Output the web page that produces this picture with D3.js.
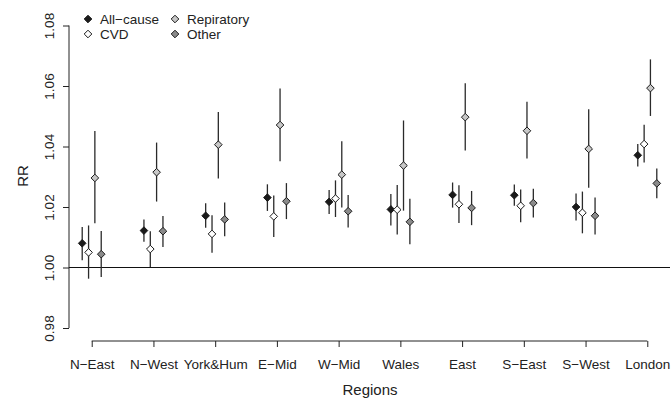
<!DOCTYPE html>
<html>
<head>
<meta charset="utf-8">
<script src="https://cdn.jsdelivr.net/npm/d3@7"></script>
<style>
  body { margin: 0; background: #fff; }
  text { font-family: "Liberation Sans", Arial, sans-serif; fill: #222; }
</style>
</head>
<body>
<script>
// regions on the x axis
var regions = ["N\u2212East", "N\u2212West", "York&Hum", "E\u2212Mid", "W\u2212Mid", "Wales", "East", "S\u2212East", "S\u2212West", "London"];

// relative risk estimates and 95% limits, one array per cause
var allCause    = [1.0080, 1.0122, 1.0171, 1.0231, 1.0217, 1.0192, 1.0240, 1.0239, 1.0200, 1.0371];
var allCauseLo  = [1.0024, 1.0085, 1.0131, 1.0187, 1.0177, 1.0139, 1.0198, 1.0204, 1.0155, 1.0334];
var allCauseHi  = [1.0134, 1.0159, 1.0212, 1.0275, 1.0256, 1.0243, 1.0281, 1.0274, 1.0245, 1.0408];

var cvd    = [1.0050, 1.0061, 1.0111, 1.0169, 1.0228, 1.0191, 1.0209, 1.0204, 1.0181, 1.0408];
var cvdLo  = [0.9963, 1.0002, 1.0049, 1.0101, 1.0167, 1.0109, 1.0147, 1.0150, 1.0113, 1.0347];
var cvdHi  = [1.0139, 1.0120, 1.0173, 1.0238, 1.0288, 1.0273, 1.0272, 1.0258, 1.0251, 1.0472];

var resp    = [1.0296, 1.0315, 1.0406, 1.0471, 1.0307, 1.0337, 1.0497, 1.0452, 1.0392, 1.0593];
var respLo  = [1.0146, 1.0218, 1.0294, 1.0351, 1.0198, 1.0188, 1.0387, 1.0360, 1.0264, 1.0501];
var respHi  = [1.0451, 1.0413, 1.0514, 1.0592, 1.0417, 1.0486, 1.0609, 1.0548, 1.0523, 1.0688];

var other    = [1.0044, 1.0120, 1.0159, 1.0219, 1.0186, 1.0151, 1.0197, 1.0213, 1.0171, 1.0278];
var otherLo  = [0.9969, 1.0068, 1.0103, 1.0160, 1.0132, 1.0077, 1.0140, 1.0165, 1.0109, 1.0229];
var otherHi  = [1.0121, 1.0170, 1.0215, 1.0279, 1.0240, 1.0227, 1.0253, 1.0260, 1.0231, 1.0327];

var yTicks = [0.98, 1.00, 1.02, 1.04, 1.06, 1.08];

var series = [
  {name: "All\u2212cause", est: allCause, lo: allCauseLo, hi: allCauseHi, fill: "#1a1a1a", off: -0.154},
  {name: "CVD",        est: cvd,      lo: cvdLo,      hi: cvdHi,      fill: "#ffffff", off: -0.051},
  {name: "Repiratory", est: resp,     lo: respLo,     hi: respHi,     fill: "#c8c8c8", off: 0.051},
  {name: "Other",      est: other,    lo: otherLo,    hi: otherHi,    fill: "#8a8a8a", off: 0.154}
];

var width = 671, height = 401;

var svg = d3.select("body").append("svg")
    .attr("width", width)
    .attr("height", height);

var x = d3.scaleLinear().domain([0.632, 10.368]).range([69, 670]);
var y = d3.scaleLinear().domain([0.98, 1.08]).range([328, 25.5]);

// diamond like R's pch 23
function diamond(r) {
  return "M0," + (-r) + "L" + r + ",0L0," + r + "L" + (-r) + ",0Z";
}

// y axis
var yAxis = svg.append("g")
    .attr("transform", "translate(69,0)")
    .call(d3.axisLeft(y).tickValues(yTicks).tickSize(6).tickFormat(d3.format(".2f")));
yAxis.select(".domain").attr("stroke", "#222").attr("d", "M0," + y(0.98) + "V" + y(1.08));
yAxis.selectAll(".tick line").attr("stroke", "#222");
yAxis.selectAll(".tick text")
    .attr("x", null).attr("dy", null)
    .attr("transform", "translate(-15,0) rotate(-90)")
    .attr("text-anchor", "middle")
    .style("font-size", "13.5px");

// x axis
var xAxis = svg.append("g")
    .attr("transform", "translate(0,341)")
    .call(d3.axisBottom(x).tickValues(d3.range(1, 11)).tickSize(6)
      .tickFormat(function(d) { return regions[d - 1]; }));
xAxis.select(".domain").attr("stroke", "#222").attr("d", "M" + x(1) + ",0H" + x(10));
xAxis.selectAll(".tick line").attr("stroke", "#222");
xAxis.selectAll(".tick text")
    .attr("y", 28).attr("dy", null)
    .style("font-size", "13.5px");
svg.selectAll(".tick text").attr("font-family", null).style("fill", "#222");
svg.selectAll("g").attr("font-family", null);

// reference line at RR = 1
svg.append("line")
    .attr("x1", 69).attr("x2", 670)
    .attr("y1", y(1)).attr("y2", y(1))
    .attr("stroke", "#111").attr("stroke-width", 1.2);

// error bars and points
series.forEach(function(s) {
  var g = svg.append("g");
  g.selectAll("line")
    .data(regions)
    .enter().append("line")
    .attr("x1", function(d, i) { return x(i + 1 + s.off); })
    .attr("x2", function(d, i) { return x(i + 1 + s.off); })
    .attr("y1", function(d, i) { return y(s.lo[i]); })
    .attr("y2", function(d, i) { return y(s.hi[i]); })
    .attr("stroke", "#2a2a2a").attr("stroke-width", 1.3);
  g.selectAll("path")
    .data(regions)
    .enter().append("path")
    .attr("d", diamond(3.8))
    .attr("transform", function(d, i) { return "translate(" + x(i + 1 + s.off) + "," + y(s.est[i]) + ")"; })
    .attr("fill", s.fill)
    .attr("stroke", "#1a1a1a").attr("stroke-width", 1);
});

// axis titles
svg.append("text")
    .attr("x", 370).attr("y", 395)
    .attr("text-anchor", "middle")
    .style("font-size", "15px")
    .text("Regions");
svg.append("text")
    .attr("transform", "translate(28,176) rotate(-90)")
    .attr("text-anchor", "middle")
    .style("font-size", "15px")
    .text("RR");

// legend
var legendPos = [[88, 19], [88, 34], [175, 19], [175, 34]];
series.forEach(function(s, i) {
  var p = legendPos[i];
  svg.append("path")
    .attr("d", diamond(3.8))
    .attr("transform", "translate(" + p[0] + "," + p[1] + ")")
    .attr("fill", s.fill)
    .attr("stroke", "#1a1a1a");
  svg.append("text")
    .attr("x", p[0] + 12).attr("y", p[1] + 5)
    .style("font-size", "13.5px")
    .text(s.name);
});
</script>
</body>
</html>
